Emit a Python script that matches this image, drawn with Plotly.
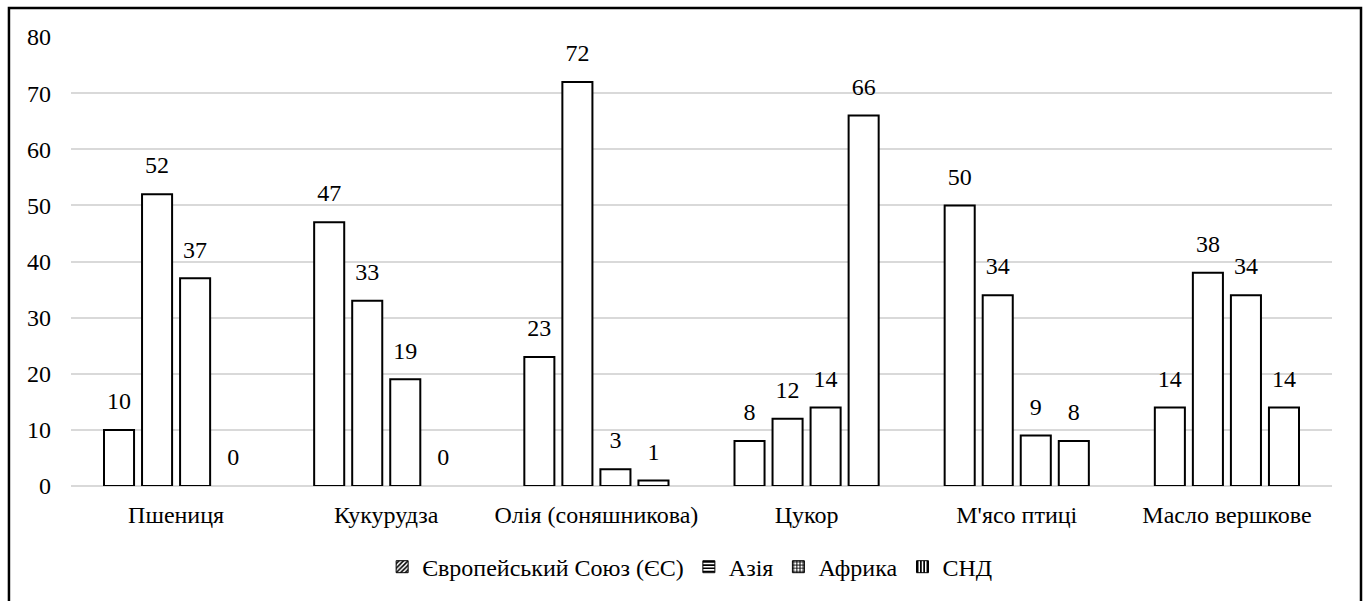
import plotly.graph_objects as go

categories = ["Пшениця", "Кукурудза", "Олія (соняшникова)", "Цукор", "М'ясо птиці", "Масло вершкове"]
series_names = ["Європейський Союз (ЄС)", "Азія", "Африка", "СНД"]
eu = [10, 47, 23, 8, 50, 14]
asia = [52, 33, 72, 12, 34, 38]
africa = [37, 19, 3, 14, 9, 34]
cis = [0, 0, 1, 66, 8, 14]
patterns = ["/", "-", "+", "|"]

FONT = "Times New Roman, Liberation Serif, DejaVu Serif, serif"
SIZE = 24
GAP = 0.276
fig = go.Figure()
for name, vals in zip(series_names, [eu, asia, africa, cis]):
    fig.add_trace(go.Bar(
        x=categories, y=vals, name=name, showlegend=False,
        marker=dict(color="white", line=dict(color="black", width=[2 if v > 0 else 0 for v in vals])),
        hoverinfo="x+y",
    ))
for name, vals in zip(series_names, [eu, asia, africa, cis]):
    fig.add_trace(go.Scatter(
        x=categories, y=vals, name=name, showlegend=False, mode="markers+text",
        marker=dict(size=22, opacity=0), text=[str(v) for v in vals],
        textposition="top center", cliponaxis=False,
        textfont=dict(family=FONT, size=SIZE, color="black"), hoverinfo="skip",
    ))
for name, pat in zip(series_names, patterns):
    fig.add_trace(go.Bar(
        x=[None], y=[None], name=name, showlegend=True, xaxis="x2", yaxis="y2",
        marker=dict(color="white", line=dict(color="black", width=1),
                    pattern=dict(shape=pat, fgcolor="black", bgcolor="white", size=4, solidity=0.5)),
    ))

fig.update_layout(
    template="none",
    width=1368, height=601,
    margin=dict(l=71, r=36, t=37, b=114),
    paper_bgcolor="white", plot_bgcolor="white",
    barmode="group", bargap=GAP, bargroupgap=0.21,
    scattermode="group", scattergap=GAP,
    font=dict(family=FONT, size=SIZE, color="black"),
    showlegend=True,
    legend=dict(orientation="h", x=0.491, xanchor="center", y=-0.178, yanchor="middle",
                font=dict(family=FONT, size=SIZE, color="black"), itemwidth=30,
                traceorder="normal", bgcolor="rgba(0,0,0,0)"),
    xaxis=dict(showgrid=False, showline=False, ticks="", zeroline=False,
               tickfont=dict(family=FONT, size=SIZE, color="black"), ticklabelstandoff=12),
    yaxis=dict(range=[0, 80], dtick=10, showgrid=True, gridcolor="#d9d9d9", gridwidth=1.5,
               zeroline=True, zerolinecolor="#d9d9d9", zerolinewidth=1.5, showline=False,
               ticks="", tickfont=dict(family=FONT, size=SIZE, color="black"), ticklabelstandoff=19),
    xaxis2=dict(overlaying="x", visible=False, showgrid=False),
    yaxis2=dict(overlaying="y", visible=False, showgrid=False),
    shapes=[dict(type="rect", xref="paper", yref="paper",
                 x0=-0.0492, x1=1.023, y0=-0.262, y1=1.0644,
                 line=dict(color="black", width=2.5), fillcolor="rgba(0,0,0,0)", layer="above")],
)
fig.write_html("out.html", config={"displayModeBar": False},
               post_script="document.body.style.margin='0';document.body.style.overflow='hidden';")
